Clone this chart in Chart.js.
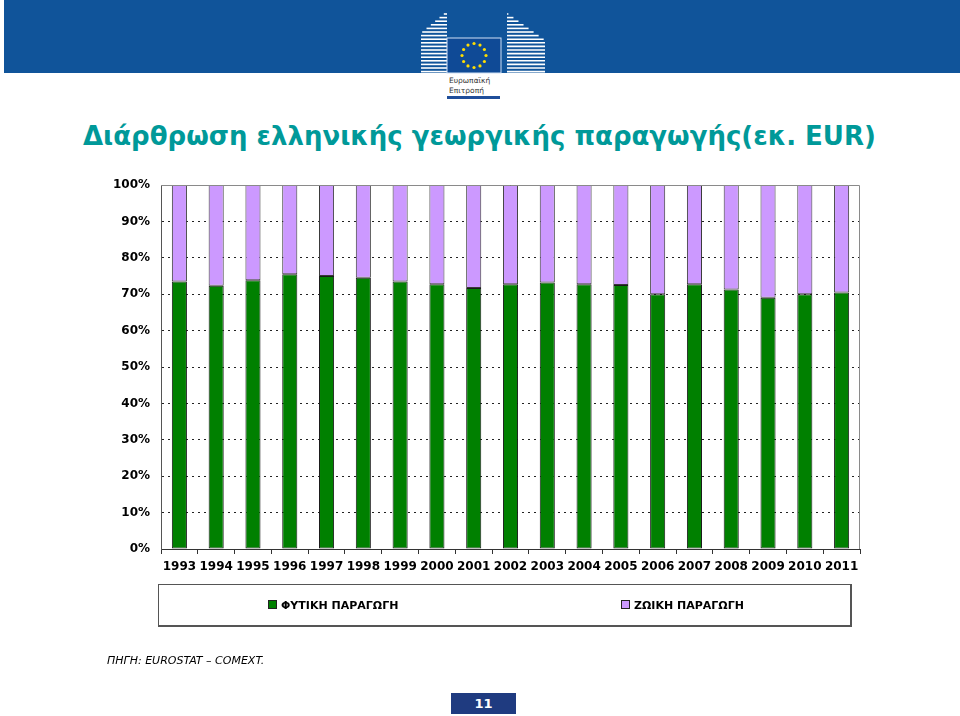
<!DOCTYPE html>
<html>
<head>
<meta charset="utf-8">
<script src="https://cdn.jsdelivr.net/npm/chart.js@4.4.0/dist/chart.umd.min.js"></script>
<style>
body{margin:0;width:960px;height:716px;position:relative;background:#fff;overflow:hidden;font-family:"DejaVu Sans",Verdana,sans-serif}
#banner{position:absolute;left:4px;top:0;width:956px;height:73px;background:#10549a}
#logo{position:absolute;left:0;top:0}
#title{position:absolute;left:83px;top:121px;font:bold 26px "DejaVu Sans";line-height:30px;color:#009999;white-space:nowrap}
#chart{position:absolute;left:0;top:0}
#legend{position:absolute;left:158px;top:584px;width:694px;height:43px;border:1px solid #555;border-right-width:2px;border-bottom-width:2px;box-sizing:border-box;font:bold 11px "DejaVu Sans";color:#000}
#legend span{position:absolute;top:14px;white-space:nowrap}
#legend i{display:inline-block;width:7px;height:7px;border:1px solid #222;margin-right:4px;vertical-align:0}
#source{position:absolute;left:107px;top:654px;font:italic 11px "DejaVu Sans";color:#000}
#page{position:absolute;left:451px;top:693px;width:65px;height:21px;background:#1f3b80;color:#fff;font:bold 13px "DejaVu Sans";text-align:center;line-height:21px}
</style>
</head>
<body>
<div id="banner"></div>
<svg id="logo" width="960" height="110"></svg>
<div id="title">Διάρθρωση ελληνικής γεωργικής παραγωγής(εκ. EUR)</div>
<canvas id="chart" width="960" height="716"></canvas>
<div id="legend">
  <span style="left:109px"><i style="background:#008000"></i>ΦΥΤΙΚΗ ΠΑΡΑΓΩΓΗ</span>
  <span style="left:462px"><i style="background:#cc99ff"></i>ΖΩΙΚΗ ΠΑΡΑΓΩΓΗ</span>
</div>
<div id="source">ΠΗΓΗ: EUROSTAT – COMEXT.</div>
<div id="page">11</div>
<script>
var years = ['1993', '1994', '1995', '1996', '1997', '1998', '1999', '2000', '2001', '2002',
             '2003', '2004', '2005', '2006', '2007', '2008', '2009', '2010', '2011'];
var plantShare = [73.5, 72.3, 73.8, 75.5, 75.0, 74.5, 73.5, 72.7, 71.7, 72.7,
                  73.2, 72.7, 72.5, 70.0, 72.7, 71.3, 69.0, 70.0, 70.5];
var animalShare = [26.5, 27.7, 26.2, 24.5, 25.0, 25.5, 26.5, 27.3, 28.3, 27.3,
                   26.8, 27.3, 27.5, 30.0, 27.3, 28.7, 31.0, 30.0, 29.5];
var seriesNames = ['ΦΥΤΙΚΗ ΠΑΡΑΓΩΓΗ', 'ΖΩΙΚΗ ΠΑΡΑΓΩΓΗ'];

// commission logo, rough sketch
(function(){
    var svg = document.getElementById('logo');
    var ns = 'http://www.w3.org/2000/svg';
    var s = '';
    for (var y = 14; y < 72; y += 3.6) {
        var x0 = y < 33 ? 445 - (y - 13) * 1.2 : 421;
        s += '<line x1="' + x0 + '" y1="' + y + '" x2="447" y2="' + y + '" stroke="#fff" stroke-width="1.6"/>';
        var x1 = y < 40 ? 507 + (y - 13) * 1.4 : 545;
        s += '<line x1="507" y1="' + y + '" x2="' + x1 + '" y2="' + y + '" stroke="#fff" stroke-width="1.6"/>';
    }
    s += '<rect x="447" y="38" width="54" height="35" fill="#0f4a96" stroke="#cfe0f5" stroke-width="1"/>';
    for (var k = 0; k < 12; k++) {
        var a = k * Math.PI / 6;
        s += '<circle cx="' + (474 + 12 * Math.cos(a)) + '" cy="' + (55.5 + 12 * Math.sin(a)) + '" r="1.6" fill="#ffdd00"/>';
    }
    s += '<text x="449" y="83" font-family="DejaVu Sans" font-size="7.5" fill="#333">Ευρωπαϊκή</text>';
    s += '<text x="449" y="93" font-family="DejaVu Sans" font-size="7.5" fill="#333">Επιτροπή</text>';
    s += '<rect x="447" y="96" width="53" height="3" fill="#1f4e9a"/>';
    svg.innerHTML = s;
})();

var plotFrame = {
    id: 'plotFrame',
    afterDraw: function(chart){
        var a = chart.chartArea, c = chart.ctx;
        c.save();
        c.strokeStyle = '#8a8a8a';
        c.lineWidth = 1;
        c.beginPath();
        c.moveTo(a.left, a.top + 0.5);
        c.lineTo(a.right - 0.5, a.top + 0.5);
        c.lineTo(a.right - 0.5, a.bottom);
        c.stroke();
        c.restore();
    }
};

var context = document.getElementById('chart').getContext('2d');
var chart = new Chart(context, {
    type: 'bar',
    data: {
        labels: years,
        datasets: [{
            label: seriesNames[0],
            data: plantShare,
            backgroundColor: '#008000',
            borderColor: '#1a1a1a',
            borderWidth: 1,
            borderSkipped: false
        }, {
            label: seriesNames[1],
            data: animalShare,
            backgroundColor: '#cc99ff',
            borderColor: '#3a3a3a',
            borderWidth: 1,
            borderSkipped: false
        }]
    },
    plugins: [plotFrame],
    options: {
        responsive: false,
        animation: false,
        devicePixelRatio: 1,
        layout: { padding: { left: 0, top: 185, right: 100, bottom: 127 } },
        datasets: { bar: { barPercentage: 0.41, categoryPercentage: 1 } },
        plugins: {
            legend: { display: false },
            tooltip: { enabled: false }
        },
        scales: {
            x: {
                stacked: true,
                afterFit: function(s){ s.height = 40; },
                grid: { display: true, drawOnChartArea: false, drawTicks: true, tickLength: 5, offset: true, color: '#333' },
                border: { display: true, color: '#333', width: 1 },
                ticks: { color: '#000', padding: 6, maxRotation: 0, autoSkip: false, font: { family: 'DejaVu Sans', size: 12, weight: 'bold' } }
            },
            y: {
                stacked: true,
                min: 0,
                max: 100,
                afterFit: function(s){ s.width = 161; },
                grid: {
                    drawTicks: false,
                    lineWidth: 1,
                    color: function(ctx){ return (ctx.tick.value === 0 || ctx.tick.value === 100) ? 'rgba(0,0,0,0)' : '#222'; }
                },
                border: { display: true, color: '#555', width: 1, dash: [2, 4] },
                ticks: {
                    stepSize: 10,
                    padding: 11,
                    color: '#000',
                    font: { family: 'DejaVu Sans', size: 12, weight: 'bold' },
                    callback: function(v){ return v + '%'; }
                }
            }
        }
    }
});
</script>
</body>
</html>
